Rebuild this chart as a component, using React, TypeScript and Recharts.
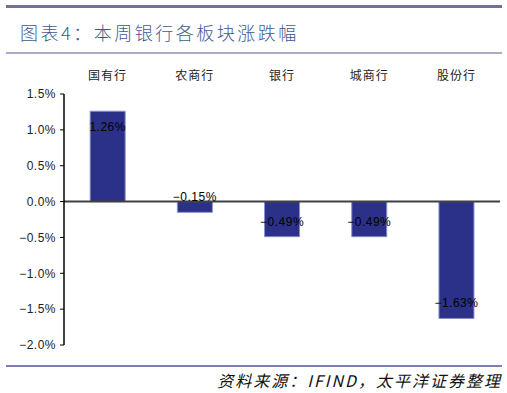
import { BarChart, Bar, XAxis, YAxis, ReferenceLine, LabelList } from 'recharts';

const categories = ['国有行', '农商行', '银行', '城商行', '股份行'];
const changes = [1.26, -0.15, -0.49, -0.49, -1.63];
const yTicks = [-2, -1.5, -1, -0.5, 0, 0.5, 1, 1.5];

const data = categories.map((name, i) => ({ name, value: changes[i] }));

const fmt = (v: number, digits: number) => {
  const s = Math.abs(v).toFixed(digits) + '%';
  return v < 0 ? '\u2212' + s : s;
};

// value label near the end of each bar, inside it
const renderValueLabel = (props: any) => {
  const { x, y, width, height, value } = props;
  const top = Math.min(y, y + height);
  const bottom = Math.max(y, y + height);
  const cy = value >= 0 ? top + 16 : bottom - 15;
  return (
    <text
      x={x + width / 2}
      y={cy}
      textAnchor="middle"
      dominantBaseline="central"
      fontSize={12}
      letterSpacing={0.5}
      fontFamily="Liberation Sans, Arial, sans-serif"
      fill="#000"
    >
      {fmt(value, 2)}
    </text>
  );
};

export default function App() {
  return (
    <div style={{ position: 'absolute', left: 0, top: 0, width: 507, height: 393, background: '#fff' }}>
      <div style={{ position: 'absolute', left: 6, top: 5, width: 496, height: 3, background: '#6f7299' }} />
      <div
        style={{
          position: 'absolute',
          left: 20,
          top: 20,
          fontSize: 18,
          lineHeight: '24px',
          letterSpacing: 2.5,
          fontWeight: 300,
          color: '#3d5a90',
          fontFamily: '"Noto Sans CJK SC", sans-serif',
          whiteSpace: 'nowrap',
        }}
      >
        图表4：本周银行各板块涨跌幅
      </div>
      <div style={{ position: 'absolute', left: 6, top: 52, width: 496, height: 2, background: '#a9abc9' }} />

      <div style={{ position: 'absolute', left: 0, top: 0 }}>
        <BarChart
          width={507}
          height={393}
          data={data}
          margin={{ top: 60, right: 7, bottom: 48, left: 0 }}
          barCategoryGap="30%"
        >
          <XAxis
            dataKey="name"
            orientation="top"
            height={34}
            axisLine={false}
            tickLine={false}
            interval={0}
            tick={{ fontSize: 12, fill: '#222', letterSpacing: 1, fontFamily: '"Noto Sans CJK SC", sans-serif' }}
            tickMargin={8}
          />
          <YAxis
            width={64}
            domain={[-2, 1.5]}
            ticks={yTicks}
            interval={0}
            tickFormatter={(v: number) => fmt(v, 1)}
            axisLine={{ stroke: '#000', strokeWidth: 1.5 }}
            tickLine={{ stroke: '#000' }}
            tickSize={4}
            tickMargin={4}
            tick={{ fontSize: 12, fill: '#222', letterSpacing: 0.5, fontFamily: 'Liberation Sans, Arial, sans-serif' }}
          />
          <ReferenceLine y={0} stroke="#404040" strokeWidth={2} />
          <Bar dataKey="value" fill="#2b3188" stroke="#8a8fc6" strokeWidth={1} isAnimationActive={false}>
            <LabelList dataKey="value" content={renderValueLabel} />
          </Bar>
        </BarChart>
      </div>

      <div style={{ position: 'absolute', left: 6, top: 365, width: 496, height: 1.5, background: '#7a7eb0' }} />
      <div
        style={{
          position: 'absolute',
          right: 5,
          top: 369,
          fontSize: 16,
          lineHeight: '22px',
          letterSpacing: 2,
          fontStyle: 'italic',
          color: '#111',
          fontFamily: '"Noto Sans CJK SC", sans-serif',
          whiteSpace: 'nowrap',
        }}
      >
        资料来源：IFIND，太平洋证券整理
      </div>
    </div>
  );
}
